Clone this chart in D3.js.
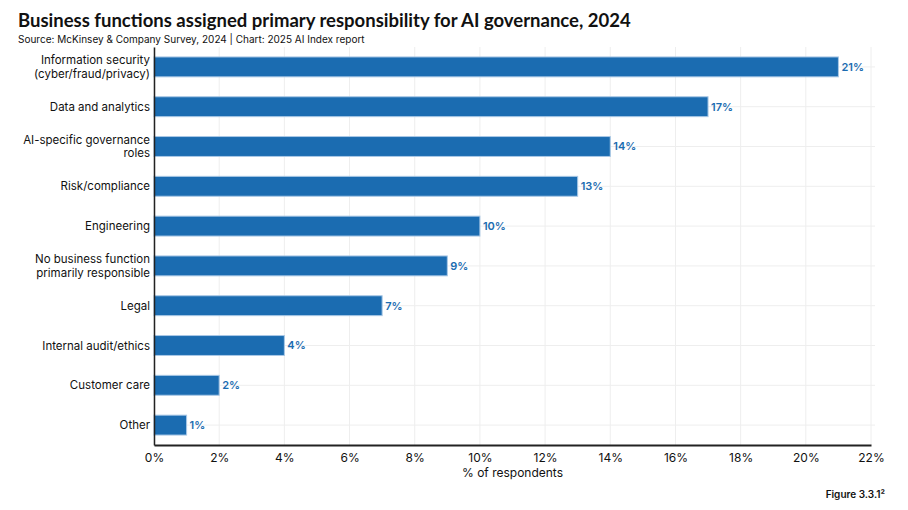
<!DOCTYPE html>
<html>
<head>
<meta charset="utf-8">
<script src="https://cdn.jsdelivr.net/npm/d3@7"></script>
<style>
  body { margin: 0; background: #fff; }
  svg { font-family: Inter, "Open Sans", sans-serif; }
</style>
</head>
<body>
<svg id="chart"></svg>
<script>
// data
var categories = [
  "Information security\n(cyber/fraud/privacy)",
  "Data and analytics",
  "AI-specific governance\nroles",
  "Risk/compliance",
  "Engineering",
  "No business function\nprimarily responsible",
  "Legal",
  "Internal audit/ethics",
  "Customer care",
  "Other"
];
var values = [21, 17, 14, 13, 10, 9, 7, 4, 2, 1];
var xTicks = [0, 2, 4, 6, 8, 10, 12, 14, 16, 18, 20, 22];

var W = 908, H = 510;
var margin = {top: 47, right: 37, bottom: 65, left: 154};
var width = W - margin.left - margin.right;
var height = H - margin.top - margin.bottom;

var svg = d3.select("#chart").attr("width", W).attr("height", H);

svg.append("text")
  .attr("x", 18).attr("y", 27)
  .style("font-family", "Lato, sans-serif")
  .style("font-size", "18.5px").style("font-weight", 700).style("fill", "#111")
  .text("Business functions assigned primary responsibility for AI governance, 2024");

svg.append("text")
  .attr("x", 18).attr("y", 43)
  .style("font-size", "10px").style("fill", "#111")
  .text("Source: McKinsey & Company Survey, 2024 | Chart: 2025 AI Index report");

var g = svg.append("g").attr("transform", "translate(" + margin.left + "," + margin.top + ")");

var x = d3.scaleLinear().domain([0, 22]).range([0, width]);
var y = d3.scaleBand().domain(categories).range([0, height]).paddingInner(0.5).paddingOuter(0.25);

// grid
g.selectAll(".vgrid").data(xTicks).enter().append("line")
  .attr("x1", function(d) { return x(d); }).attr("x2", function(d) { return x(d); })
  .attr("y1", 0).attr("y2", height)
  .style("stroke", "#eeeeee").style("stroke-width", 1);

g.selectAll(".hgrid").data(categories).enter().append("line")
  .attr("x1", 0).attr("x2", width + 4)
  .attr("y1", function(d) { return y(d) + y.bandwidth() / 2; })
  .attr("y2", function(d) { return y(d) + y.bandwidth() / 2; })
  .style("stroke", "#eeeeee").style("stroke-width", 1);

// bars
g.selectAll(".bar").data(values).enter().append("rect")
  .attr("x", 0)
  .attr("y", function(d, i) { return y(categories[i]); })
  .attr("width", function(d) { return x(d); })
  .attr("height", y.bandwidth())
  .style("fill", "#1b6cb1")
  .style("stroke", "#a9c8e6").style("stroke-width", 1);

g.selectAll(".val").data(values).enter().append("text")
  .attr("x", function(d) { return x(d) + 3; })
  .attr("y", function(d, i) { return y(categories[i]) + y.bandwidth() / 2; })
  .attr("dy", "0.35em")
  .style("font-size", "11px").style("font-weight", 600).style("fill", "#1b6cb1")
  .text(function(d) { return d + "%"; });

// axes
var xAxis = d3.axisBottom(x).tickValues(xTicks).tickSize(0).tickPadding(8)
  .tickFormat(function(d) { return d + "%"; });
g.append("g").attr("transform", "translate(0," + height + ")").call(xAxis)
  .call(function(a) {
    a.select(".domain").style("stroke", "#222").style("stroke-width", 2);
    a.selectAll("text").style("font-size", "12px").style("fill", "#111").style("font-family", "Inter, sans-serif");
  });

var yAxis = d3.axisLeft(y).tickSize(0).tickFormat("");
g.append("g").call(yAxis)
  .call(function(a) {
    a.select(".domain").style("stroke", "#222").style("stroke-width", 1.5);
  });

// y labels (multi-line)
g.selectAll(".ylab").data(categories).enter().append("text")
  .attr("x", -4)
  .attr("y", function(d) { return y(d) + y.bandwidth() / 2; })
  .attr("text-anchor", "end")
  .style("font-size", "11.5px").style("fill", "#111")
  .each(function(d) {
    var lines = d.split("\n");
    var t = d3.select(this);
    lines.forEach(function(l, i) {
      t.append("tspan").attr("x", -4)
        .attr("dy", i === 0 ? (0.35 - (lines.length - 1) * 0.6) + "em" : "1.2em")
        .text(l);
    });
  });

svg.append("text")
  .attr("x", margin.left + width / 2).attr("y", 477)
  .attr("text-anchor", "middle")
  .style("font-size", "12px").style("fill", "#111")
  .text("% of respondents");

svg.append("text")
  .attr("x", 885).attr("y", 498)
  .attr("text-anchor", "end")
  .style("font-size", "10px").style("font-weight", 600).style("fill", "#111")
  .text("Figure 3.3.1²");
</script>
</body>
</html>
